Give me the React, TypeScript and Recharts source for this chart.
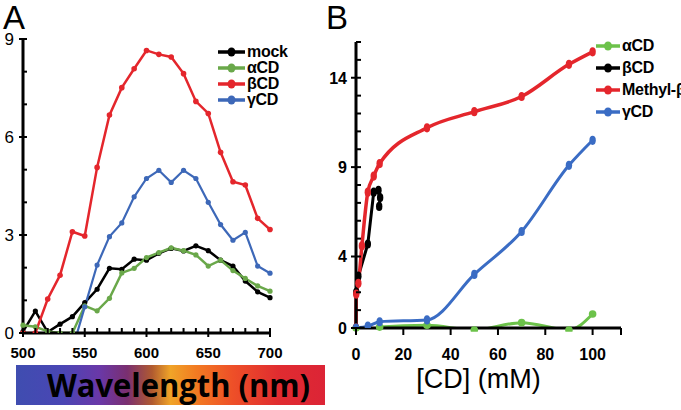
import React from 'react';
import { LineChart, Line, XAxis, YAxis, Legend } from 'recharts';

// Panel A: absorbance-like spectra vs wavelength
const wavelengths = [500, 510, 520, 530, 540, 550, 560, 570, 580, 590, 600, 610, 620, 630, 640, 650, 660, 670, 680, 690, 700];
const mockA = [0.04, 0.67, 0.03, 0.27, 0.5, 0.93, 1.34, 1.98, 1.95, 2.26, 2.23, 2.44, 2.59, 2.51, 2.67, 2.52, 2.23, 2.05, 1.59, 1.26, 1.08];
const alphaA = [0.24, 0.19, 0.05, 0.0, 0.0, 0.83, 0.68, 1.06, 1.84, 1.98, 2.31, 2.46, 2.61, 2.52, 2.39, 2.05, 2.23, 1.91, 1.67, 1.44, 1.28];
const betaA = [0, 0, 1.04, 1.77, 3.1, 2.97, 5.07, 6.67, 7.51, 8.09, 8.65, 8.53, 8.45, 7.94, 7.09, 6.72, 5.53, 4.63, 4.53, 3.51, 3.17];
const gammaA = [null, null, null, null, -0.5, 0.8, 2.08, 2.95, 3.37, 4.17, 4.73, 4.98, 4.61, 4.98, 4.73, 4.0, 3.32, 2.84, 3.08, 2.05, 1.83];

const ticksAX = [500, 510, 520, 530, 540, 550, 560, 570, 580, 590, 600, 610, 620, 630, 640, 650, 660, 670, 680, 690, 700];
const labelsAX = [500, 550, 600, 650, 700];
const ticksAY = [0, 1, 2, 3, 4, 5, 6, 7, 8, 9];
const labelsAY = [0, 3, 6, 9];

const legendA = ['mock', 'αCD', 'βCD', 'γCD'];

// Panel B: signal vs [CD]
const alphaBx = [0, 5, 10, 30, 50, 70, 90, 100];
const alphaBy = [0, -0.45, 0.05, 0.15, -0.11, 0.3, -0.11, 0.78];
const betaBx = [0, 0.1, 1, 5, 7.5, 9.5, 10.2, 9.8];
const betaBy = [0, 2.0, 2.9, 4.7, 7.6, 7.7, 7.3, 6.8];
const methylBx = [0, 0.1, 1, 2.5, 5, 7.5, 10, 30, 50, 70, 90, 100];
const methylBy = [0, 1.9, 2.5, 4.6, 7.6, 8.5, 9.2, 11.2, 12.1, 12.95, 14.75, 15.45];
const gammaBx = [0, 5, 10, 30, 50, 70, 90, 100];
const gammaBy = [0, 0.1, 0.35, 0.45, 3.0, 5.4, 9.1, 10.5];

const ticksBX = [0, 20, 40, 60, 80, 100, 112];
const labelsBX = [0, 20, 40, 60, 80, 100];
const ticksBY = [0, 1, 2, 3, 4, 5, 6, 7, 8, 9, 10, 11, 12, 13, 14, 15, 16];
const labelsBY = [0, 4, 9, 14];

const legendB = ['αCD', 'βCD', 'Methyl-β', 'γCD'];

const FONT = '"Liberation Sans", Arial, sans-serif';

const C = {
  black: '#000000',
  greenA: '#6aa84a',
  red: '#e4262c',
  blueA: '#3d68b8',
  greenB: '#6cc24a',
  blueB: '#3a6cc4',
};
const legendColorsA = [C.black, C.greenA, C.red, C.blueA];
const legendColorsB = [C.greenB, C.black, C.red, C.blueB];

const dataA = wavelengths.map((w, i) => ({
  w,
  mock: mockA[i],
  alpha: alphaA[i],
  beta: betaA[i],
  gamma: gammaA[i],
}));

const pts = (xs: number[], ys: number[]) => xs.map((x, i) => ({ x, y: ys[i] }));

const AYTick = ({ x, y, payload }: any) => {
  const major = labelsAY.includes(payload.value);
  return (
    <g>
      <line x1={major ? x - 4 : x} x2={x + 4} y1={y} y2={y} stroke="#000" strokeWidth={2} />
      {major && (
        <text x={x - 9} y={y} dy="0.36em" textAnchor="end" fontSize={17} fontFamily={FONT} fill="#000">
          {payload.value}
        </text>
      )}
    </g>
  );
};

const AXTick = ({ x, y, payload }: any) => {
  const major = labelsAX.includes(payload.value);
  return (
    <g>
      <line x1={x} x2={x} y1={y - 5} y2={major ? y + 4 : y} stroke="#000" strokeWidth={2} />
      {major && (
        <text x={x} y={y + 25} textAnchor="middle" fontSize={15} fontWeight="bold" fontFamily={FONT} fill="#000">
          {payload.value}
        </text>
      )}
    </g>
  );
};

const BYTick = ({ x, y, payload }: any) => {
  const major = labelsBY.includes(payload.value);
  return (
    <g>
      <line x1={major ? x - 5 : x} x2={x + 5} y1={y} y2={y} stroke="#000" strokeWidth={2} />
      {major && (
        <text x={x - 9} y={y} dy="0.36em" textAnchor="end" fontSize={16} fontWeight="bold" fontFamily={FONT} fill="#000">
          {payload.value}
        </text>
      )}
    </g>
  );
};

const BXTick = ({ x, y, payload }: any) => {
  const labelled = labelsBX.includes(payload.value);
  return (
    <g>
      <line x1={x} x2={x} y1={y} y2={y + 7} stroke="#000" strokeWidth={2} />
      {labelled && (
        <text x={x} y={y + 32} textAnchor="middle" fontSize={16} fontWeight="bold" fontFamily={FONT} fill="#000">
          {payload.value}
        </text>
      )}
    </g>
  );
};

const EllipseDot = ({ cx, cy, stroke }: any) =>
  cx == null || cy == null ? null : <ellipse cx={cx} cy={cy} rx={3.2} ry={4.6} fill={stroke} />;

const makeLegend = (labels: string[], colors: string[], rowH: number, fontSize: number, lineW: number) => () => (
  <div style={{ fontFamily: FONT }}>
    {labels.map((label, i) => (
      <div key={label} style={{ display: 'flex', alignItems: 'center', height: rowH, whiteSpace: 'nowrap' }}>
        <svg width={lineW} height={10} style={{ marginRight: 2 }}>
          <line x1={0} x2={lineW} y1={5} y2={5} stroke={colors[i]} strokeWidth={3.5} />
          <ellipse cx={lineW / 2} cy={5} rx={4} ry={4.5} fill={colors[i]} />
        </svg>
        <span style={{ fontSize, fontWeight: 'bold', color: '#000', letterSpacing: -0.3 }}>{label}</span>
      </div>
    ))}
  </div>
);

export default function App() {
  return (
    <div style={{ position: 'absolute', left: 0, top: 0, width: 681, height: 410, overflow: 'hidden', background: '#fff', fontFamily: FONT }}>
      {/* Panel A */}
      <div style={{ position: 'absolute', left: 0, top: 0 }}>
        <LineChart width={340} height={370} data={dataA} margin={{ top: 39, right: 70, bottom: 7, left: 0 }}>
          <XAxis
            dataKey="w"
            type="number"
            domain={[500, 700]}
            ticks={ticksAX}
            interval={0}
            tick={<AXTick />}
            tickLine={false}
            tickSize={0}
            tickMargin={0}
            height={30}
            axisLine={{ stroke: '#000', strokeWidth: 3 }}
          />
          <YAxis
            type="number"
            domain={[0, 9]}
            ticks={ticksAY}
            interval={0}
            allowDataOverflow
            tick={<AYTick />}
            tickLine={false}
            tickSize={0}
            tickMargin={0}
            width={23}
            axisLine={{ stroke: '#000', strokeWidth: 3 }}
          />
          <Legend
            layout="vertical"
            verticalAlign="middle"
            align="center"
            wrapperStyle={{ left: 218, top: 44, width: 110 }}
            content={makeLegend(legendA, legendColorsA, 16, 16, 27)}
          />
          <Line dataKey="mock" name="mock" stroke={C.black} strokeWidth={2.5} dot={{ r: 2.6, fill: C.black, strokeWidth: 0 }} isAnimationActive={false} />
          <Line dataKey="alpha" name="αCD" stroke={C.greenA} strokeWidth={2.5} dot={{ r: 2.6, fill: C.greenA, strokeWidth: 0 }} isAnimationActive={false} />
          <Line dataKey="beta" name="βCD" stroke={C.red} strokeWidth={2.5} dot={{ r: 2.8, fill: C.red, strokeWidth: 0 }} isAnimationActive={false} />
          <Line dataKey="gamma" name="γCD" stroke={C.blueA} strokeWidth={2.2} dot={{ r: 2.6, fill: C.blueA, strokeWidth: 0 }} isAnimationActive={false} />
        </LineChart>
      </div>

      {/* Panel B */}
      <div style={{ position: 'absolute', left: 320, top: 0 }}>
        <LineChart width={361} height={410} margin={{ top: 42, right: 60, bottom: 52, left: 0 }}>
          <XAxis
            dataKey="x"
            type="number"
            domain={[0, 112]}
            ticks={ticksBX}
            interval={0}
            tick={<BXTick />}
            tickLine={false}
            tickSize={0}
            tickMargin={0}
            height={30}
            axisLine={{ stroke: '#000', strokeWidth: 3 }}
            label={({ viewBox }: any) => (
              <text x={viewBox.x + viewBox.width / 2 - 10} y={388} textAnchor="middle" fontSize={27} fontFamily={FONT} fill="#000">
                [CD] (mM)
              </text>
            )}
          />
          <YAxis
            type="number"
            domain={[0, 16]}
            ticks={ticksBY}
            interval={0}
            allowDataOverflow
            tick={<BYTick />}
            tickLine={false}
            tickSize={0}
            tickMargin={0}
            width={36}
            axisLine={{ stroke: '#000', strokeWidth: 3 }}
          />
          <Legend
            layout="vertical"
            verticalAlign="middle"
            align="center"
            wrapperStyle={{ left: 276, top: 35, width: 120 }}
            content={makeLegend(legendB, legendColorsB, 22, 16, 24)}
          />
          <Line data={pts(alphaBx, alphaBy)} dataKey="y" name="αCD" type="monotone" stroke={C.greenB} strokeWidth={3} dot={{ r: 3.8, fill: C.greenB, strokeWidth: 0, clipDot: false }} isAnimationActive={false} />
          <Line data={pts(betaBx, betaBy)} dataKey="y" name="βCD" type="linear" stroke={C.black} strokeWidth={3} dot={<EllipseDot />} isAnimationActive={false} />
          <Line data={pts(methylBx, methylBy)} dataKey="y" name="Methyl-β" type="monotone" stroke={C.red} strokeWidth={3.5} dot={<EllipseDot />} isAnimationActive={false} />
          <Line data={pts(gammaBx, gammaBy)} dataKey="y" name="γCD" type="monotone" stroke={C.blueB} strokeWidth={3} dot={<EllipseDot />} isAnimationActive={false} />
        </LineChart>
      </div>

      {/* Panel letters */}
      <svg style={{ position: 'absolute', left: 0, top: 0 }} width={681} height={40}>
        <text x={3} y={29} fontSize={33} fontFamily={FONT} fill="#000">A</text>
        <text x={326} y={29} fontSize={33} fontFamily={FONT} fill="#000">B</text>
      </svg>

      {/* Wavelength colour bar */}
      <svg style={{ position: 'absolute', left: 16, top: 365 }} width={309} height={40}>
        <defs>
          <linearGradient id="spectrum" x1="0" x2="1" y1="0" y2="0">
            <stop offset="0" stopColor="#3f4db0" />
            <stop offset="0.15" stopColor="#4a46b4" />
            <stop offset="0.27" stopColor="#6a38a8" />
            <stop offset="0.36" stopColor="#7a2f70" />
            <stop offset="0.44" stopColor="#b05a30" />
            <stop offset="0.5" stopColor="#f0a428" />
            <stop offset="0.58" stopColor="#f27c22" />
            <stop offset="0.7" stopColor="#ee5028" />
            <stop offset="0.85" stopColor="#e02c30" />
            <stop offset="1" stopColor="#dc2436" />
          </linearGradient>
        </defs>
        <rect x={0} y={0} width={309} height={40} fill="url(#spectrum)" />
        <text x={31} y={32} fontSize={32} fontWeight="bold" fontFamily='"Open Sans", sans-serif' fill="#000" textLength={263} lengthAdjust="spacingAndGlyphs">
          Wavelength (nm)
        </text>
      </svg>
    </div>
  );
}
